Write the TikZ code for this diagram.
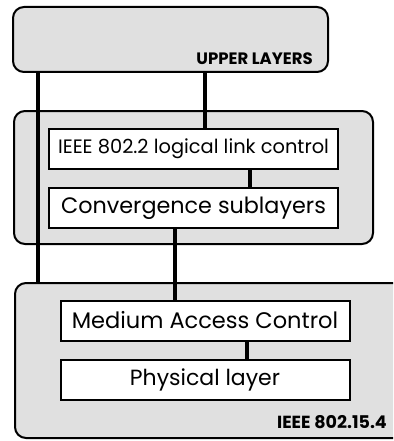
\documentclass[tikz,border=0pt]{standalone}
\usepackage{fontspec}
\setmainfont{Poppins}
\usepackage{tikz}

\tikzset{
	layer/.style={draw=black,line width=2pt,fill=gray!24,rounded corners=11pt},
	sublayer/.style={draw=black,line width=2pt,fill=white,minimum width=289pt,minimum height=40pt,inner sep=0pt},
	link/.style={line width=3.2pt}
}

\begin{document}
\begin{tikzpicture}[x=1pt,y=-1pt]
	\useasboundingbox (0,0) rectangle (393,441);
	\clip (0,0) rectangle (393,441);
	% the three grey groups
	\node[layer,minimum width=315pt,minimum height=65pt] (upper) at (170.5,39.5) {};
	\node[font=\fontsize{16.5}{18}\selectfont\bfseries,anchor=base east,inner sep=0pt] (uppertxt) at (313,65) {UPPER LAYERS};
	\node[layer,minimum width=359pt,minimum height=133pt] (middle) at (193.5,177.5) {};
	\node[layer,minimum width=395pt,minimum height=155pt] (bottom) at (212.5,360.5) {};
	\node[font=\fontsize{17.5}{19}\selectfont\bfseries,anchor=base east,inner sep=0pt] (stdtxt) at (387,428) {IEEE 802.15.4};
	% the boxes inside them
	\node[sublayer,font=\fontsize{19.4}{21}\selectfont] (llc) at (193.5,149) {IEEE 802.2 logical link control};
	\node[sublayer,font=\fontsize{22.3}{24}\selectfont] (conv) at (193.5,208) {Convergence sublayers};
	\node[sublayer,font=\fontsize{22.5}{24}\selectfont] (mac) at (205,320.5) {Medium Access Control};
	\node[sublayer,font=\fontsize{22}{24}\selectfont] (phy) at (205,379.5) {Physical layer};
	% links between them
	\coordinate (lft) at (38,0);
	\draw[link] (upper.south -| lft) -- (bottom.north -| lft);
	\draw[link] (upper.south -| llc.north) ++(11.5,0) coordinate (ut) -- (llc.north -| ut);
	\draw[link] (llc.south) ++(56.5,0) coordinate (lc) -- (conv.north -| lc);
	\draw[link] (conv.south) ++(-18.5,0) coordinate (cm) -- (mac.north -| cm);
	\draw[link] (mac.south) ++(42,0) coordinate (mp) -- (phy.north -| mp);
\end{tikzpicture}
\end{document}
